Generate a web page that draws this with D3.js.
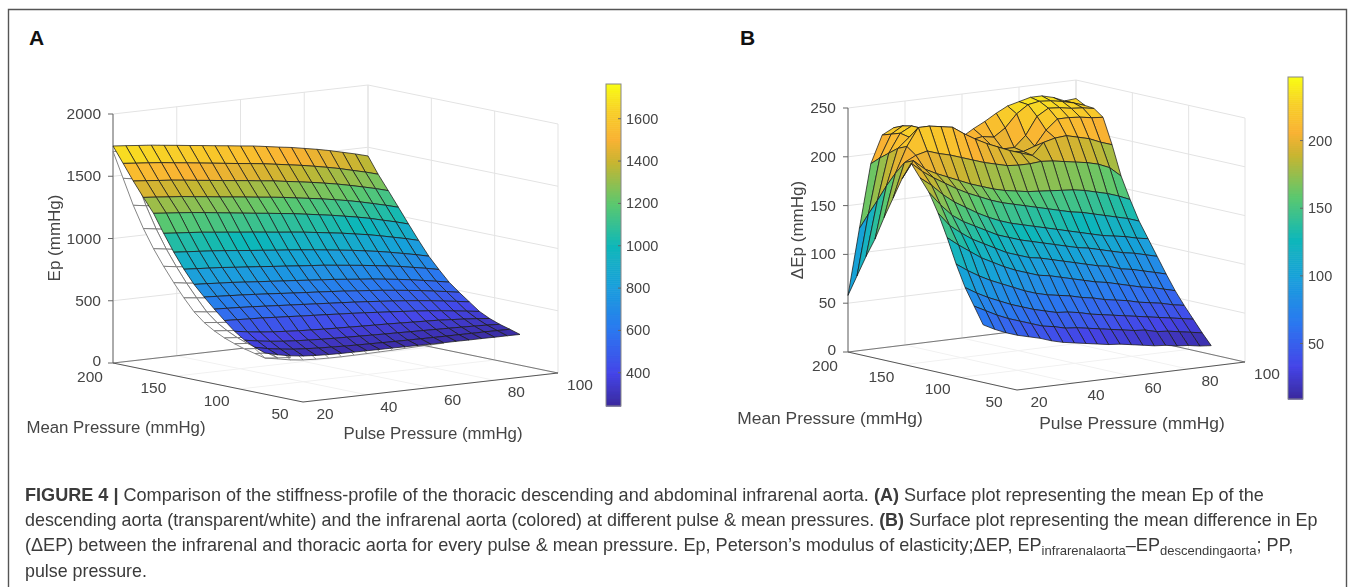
<!DOCTYPE html>
<html>
<head>
<meta charset="utf-8">
<script src="https://cdn.jsdelivr.net/npm/d3@7"></script>
<style>
body { margin: 0; background: #fff; }
svg { display: block; }
text { font-family: "Liberation Sans", Arial, sans-serif; fill: #444; }
</style>
</head>
<body>
<div id="container"></div>
<script>
// Grid of the two surfaces
var pulseLevels = [20, 24, 28, 32, 36, 40, 44, 48, 52, 56, 60, 64, 68, 72, 76, 80, 84, 88, 92, 96, 100];
var meanLevels = [200, 192, 184, 176, 168, 160, 152, 144, 136, 128, 120, 112, 104, 96, 88, 80];

// Panel A, infrarenal aorta, one row per mean pressure
var epInfrarenal = [
    [1743,1734,1724,1715,1702,1690,1677,1665,1652,1640,1627,1615,1599,1583,1568,1549,1530,1508,1483,1458,1430],
    [1620,1610,1601,1591,1578,1566,1553,1540,1527,1514,1502,1489,1473,1457,1441,1422,1402,1380,1354,1329,1300],
    [1495,1486,1476,1467,1455,1442,1430,1417,1405,1393,1380,1368,1352,1337,1321,1303,1284,1262,1238,1213,1185],
    [1380,1371,1361,1352,1339,1327,1314,1302,1290,1277,1265,1252,1236,1221,1205,1187,1168,1146,1121,1096,1068],
    [1269,1259,1250,1240,1228,1215,1202,1189,1176,1164,1151,1138,1122,1106,1090,1071,1052,1030,1004,979,950],
    [1125,1116,1108,1099,1087,1076,1064,1053,1041,1029,1018,1006,992,977,963,945,928,907,884,861,835],
    [990,982,974,966,956,945,934,924,913,903,892,881,868,855,842,826,810,791,770,749,725],
    [870,863,856,849,839,830,821,811,802,792,783,774,762,750,738,724,710,694,675,656,635],
    [765,759,752,746,737,728,720,711,703,694,685,677,666,655,645,632,619,604,587,569,550],
    [680,674,668,662,655,647,639,631,623,616,608,600,590,581,571,559,547,534,518,503,485],
    [600,595,590,584,577,570,563,556,549,542,535,528,520,511,502,492,481,469,455,441,425],
    [525,520,515,511,504,498,491,485,479,472,466,459,451,443,435,426,416,405,392,379,365],
    [455,439,426,416,408,401,396,391,387,384,380,377,374,370,366,362,358,351,344,335,325],
    [400,382,368,357,349,343,338,334,331,328,325,322,320,317,315,312,310,307,304,300,295],
    [360,338,322,310,302,296,292,288,285,283,281,279,278,277,276,275,275,274,274,273,272],
    [331,305,285,272,265,260,258,257,256,255,254,253,252,251,250,250,249,249,248,248,247]
];

// Panel A, descending aorta, only the parts that show past the coloured surface
var epDescending20 = [1700,1500,1300,1130,985,860,745,640,545,475,425,385,355,330,310,290];
var epDescending24 = [1685,1483,1285,1115,970,845,730,628,532,464,415,376,346,322,302,280];
var epDescending28 = [1670,1468,1270,1100,955,832,718,616,522,454,405,368,338,314,294,272];
var epDescendingFront = [290,272,252,240,235,232,231,232,233,235,237,240,243,245,247];

// Panel B, infrarenal minus descending, one row per mean pressure
var deltaEp = [
    [58,125,190,218,224,218,214,212,210,208,206,213,219,226,232,235,238,238,235,230,231],
    [80,142,198,221,228,222,216,213,210,207,205,207,205,213,226,234,236,235,233,230,226],
    [102,158,205,224,230,224,216,212,208,205,203,200,195,195,206,224,231,230,228,227,225],
    [122,175,212,222,230,226,216,212,207,203,200,196,194,193,197,212,222,222,221,219,218],
    [146,190,216,234,234,232,230,222,215,209,204,199,195,191,203,206,207,204,201,196,192],
    [168,203,209,212,208,205,201,197,193,190,187,186,186,187,186,184,182,180,177,172,162],
    [190,207,197,191,186,181,176,172,168,165,163,161,160,159,158,157,155,152,149,145,140],
    [208,198,190,183,176,170,165,160,156,153,150,147,144,141,138,136,133,130,127,124,120],
    [195,186,175,166,159,152,146,141,137,134,131,128,125,122,119,116,113,111,109,106,104],
    [182,168,156,148,142,136,130,126,122,119,116,113,110,107,105,102,99,96,94,91,88],
    [163,149,140,132,126,120,114,110,106,104,101,98,95,92,89,87,83,81,78,75,72],
    [140,131,123,115,109,103,98,94,90,88,85,82,79,76,74,71,68,65,63,60,57],
    [115,107,100,94,89,84,79,75,72,70,68,65,63,60,58,56,53,51,49,46,44],
    [93,86,80,75,70,66,62,59,56,55,53,50,48,46,44,42,40,38,36,34,32],
    [76,70,64,59,55,51,47,45,42,41,39,37,35,33,31,30,27,26,24,22,20],
    [59,53,48,44,41,38,34,31,29,27,25,23,22,20,18,16,15,13,12,10,9]
];

// Axis ticks
var pulseTicks = [20, 40, 60, 80, 100];
var meanTicks = [200, 150, 100, 50];
var epTicks = [0, 500, 1000, 1500, 2000];
var deltaTicks = [0, 50, 100, 150, 200, 250];
var barTicksA = [400, 600, 800, 1000, 1200, 1400, 1600];
var barTicksB = [50, 100, 150, 200];

// Colormap
var parulaStops = [0, 0.1, 0.235, 0.37, 0.5, 0.63, 0.76, 0.83, 0.92, 1];
var parulaColors = ['#3a2a9e', '#4545e8', '#2b78f0', '#1a9fdc', '#10b8b8', '#5cc86e', '#c8b530', '#f9b233', '#f8d028', '#f9fb15'];
var parula = d3.scaleLinear().domain(parulaStops).range(parulaColors);

var WIDTH = 1357,
    HEIGHT = 587;

var svg = d3.select('#container')
    .append('svg')
    .attr('width', WIDTH)
    .attr('height', HEIGHT);

var defs = svg.append('defs');
defs.append('filter').attr('id', 'soft')
    .append('feGaussianBlur').attr('stdDeviation', 0.45);
defs.append('filter').attr('id', 'softer')
    .append('feGaussianBlur').attr('stdDeviation', 0.3);

// Page frame
svg.append('path')
    .attr('d', 'M8.5,' + HEIGHT + 'V9.5H1346.5V' + HEIGHT)
    .attr('fill', 'none')
    .attr('stroke', '#555')
    .attr('stroke-width', 1.4);

var drawPanel = function(cfg) {

    var g = svg.append('g').attr('filter', 'url(#soft)');

    var pulseX = d3.scaleLinear().domain([20, 100]).range([0, cfg.pulseDx]),
        pulseY = d3.scaleLinear().domain([20, 100]).range([0, cfg.pulseDy]),
        meanX = d3.scaleLinear().domain([200, 50]).range([0, cfg.meanDx]),
        meanY = d3.scaleLinear().domain([200, 50]).range([0, cfg.meanDy]),
        zY = d3.scaleLinear().domain([0, cfg.zMax]).range([0, -cfg.zHeight]);

    var project = function(p, m, z) {
        return [cfg.x0 + pulseX(p) + meanX(m), cfg.y0 + pulseY(p) + meanY(m) + zY(z)];
    };

    var line = function(a, b, color, w) {
        g.append('line')
            .attr('x1', a[0]).attr('y1', a[1])
            .attr('x2', b[0]).attr('y2', b[1])
            .attr('stroke', color)
            .attr('stroke-width', w);
    };

    // Back walls and floor
    var GRID = '#e3e3e3';
    cfg.zTicks.forEach(function(z) {
        line(project(20, 200, z), project(100, 200, z), GRID, 1);
        line(project(100, 200, z), project(100, 50, z), GRID, 1);
    });
    pulseTicks.forEach(function(p) {
        line(project(p, 200, 0), project(p, 200, cfg.zMax), GRID, 1);
        line(project(p, 200, 0), project(p, 50, 0), '#f1f1f1', 1);
    });
    meanTicks.forEach(function(m) {
        line(project(100, m, 0), project(100, m, cfg.zMax), GRID, 1);
        line(project(20, m, 0), project(100, m, 0), '#f1f1f1', 1);
    });
    line(project(20, 200, 0), project(100, 200, 0), '#777', 1);
    line(project(100, 200, 0), project(100, 50, 0), '#777', 1);

    // Axes
    line(project(20, 200, 0), project(20, 200, cfg.zMax), '#666', 1);
    line(project(20, 200, 0), project(20, 50, 0), '#555', 1);
    line(project(20, 50, 0), project(100, 50, 0), '#555', 1);

    cfg.zTicks.forEach(function(z) {
        var a = project(20, 200, z);
        line(a, [a[0] - 5, a[1]], '#666', 1);
        g.append('text')
            .attr('x', a[0] - 12)
            .attr('y', a[1] + (z === 0 ? 3 : 5))
            .attr('text-anchor', 'end')
            .attr('font-size', 15.5)
            .text(z);
    });
    meanTicks.forEach(function(m) {
        var a = project(20, m, 0);
        g.append('text')
            .attr('x', a[0] - 23)
            .attr('y', a[1] + (m === 200 ? 19 : 17))
            .attr('text-anchor', 'middle')
            .attr('font-size', 15.5)
            .text(m);
    });
    pulseTicks.forEach(function(p) {
        var a = project(p, 50, 0);
        g.append('text')
            .attr('x', a[0] + 22)
            .attr('y', a[1] + 17)
            .attr('text-anchor', 'middle')
            .attr('font-size', 15.5)
            .text(p);
    });

    // Surface faces, far corner first
    if (cfg.under) cfg.under(g, project);

    var rows = d3.range(meanLevels.length - 1),
        cols = d3.range(pulseLevels.length - 2, -1, -1);

    rows.forEach(function(r) {
        cols.forEach(function(c) {
            var z = [cfg.values[r][c], cfg.values[r][c + 1], cfg.values[r + 1][c + 1], cfg.values[r + 1][c]];
            var pts = [
                project(pulseLevels[c], meanLevels[r], z[0]),
                project(pulseLevels[c + 1], meanLevels[r], z[1]),
                project(pulseLevels[c + 1], meanLevels[r + 1], z[2]),
                project(pulseLevels[c], meanLevels[r + 1], z[3])
            ];
            g.append('polygon')
                .attr('points', pts.join(' '))
                .attr('fill', parula(cfg.color(d3.mean(z))))
                .attr('stroke', '#1c1c1c')
                .attr('stroke-opacity', 0.85)
                .attr('stroke-width', 0.9);
        });
    });

    // Colour bar
    var barY = d3.scaleLinear().domain(cfg.barDomain).range([cfg.barBottom, cfg.barTop]);
    var steps = d3.range(0, 160);
    g.selectAll('.bar' + cfg.name)
        .data(steps)
        .enter()
        .append('rect')
        .attr('x', cfg.barX)
        .attr('width', 15)
        .attr('y', function(d) { return cfg.barBottom - (d + 1) / 160 * (cfg.barBottom - cfg.barTop); })
        .attr('height', (cfg.barBottom - cfg.barTop) / 160 + 0.6)
        .attr('fill', function(d) { return parula(d / 159); });
    g.append('rect')
        .attr('x', cfg.barX)
        .attr('y', cfg.barTop)
        .attr('width', 15)
        .attr('height', cfg.barBottom - cfg.barTop)
        .attr('fill', 'none')
        .attr('stroke', '#888');
    cfg.barTicks.forEach(function(t) {
        line([cfg.barX + 15, barY(t)], [cfg.barX + 12, barY(t)], '#666', 1);
        g.append('text')
            .attr('x', cfg.barX + 20)
            .attr('y', barY(t) + 5)
            .attr('font-size', 14.5)
            .text(t);
    });

    // Axis titles
    g.append('text')
        .attr('x', cfg.meanLabel[0]).attr('y', cfg.meanLabel[1])
        .attr('text-anchor', 'middle')
        .attr('font-size', cfg.titleSize)
        .text('Mean Pressure (mmHg)');
    g.append('text')
        .attr('x', cfg.pulseLabel[0]).attr('y', cfg.pulseLabel[1])
        .attr('text-anchor', 'middle')
        .attr('font-size', cfg.titleSize)
        .text('Pulse Pressure (mmHg)');
    g.append('text')
        .attr('transform', 'translate(' + cfg.zLabel[0] + ',' + cfg.zLabel[1] + ') rotate(-90)')
        .attr('text-anchor', 'middle')
        .attr('font-size', 17)
        .text(cfg.zTitle);
};

// The white descending aorta surface under panel A
var drawDescending = function(g, project) {
    var strips = [epDescending28, epDescending24, epDescending20],
        levels = [28, 24, 20];

    d3.range(1, 3).forEach(function(s) {
        d3.range(meanLevels.length - 1).forEach(function(r) {
            var pts = [
                project(levels[s - 1], meanLevels[r], strips[s - 1][r]),
                project(levels[s], meanLevels[r], strips[s][r]),
                project(levels[s], meanLevels[r + 1], strips[s][r + 1]),
                project(levels[s - 1], meanLevels[r + 1], strips[s - 1][r + 1])
            ];
            g.append('polygon')
                .attr('points', pts.join(' '))
                .attr('fill', '#fff')
                .attr('stroke', '#777')
                .attr('stroke-width', 0.9);
        });
    });

    var edge = d3.line();
    g.append('path')
        .attr('d', edge(epDescendingFront.map(function(z, i) { return project(pulseLevels[i], 80, z); })))
        .attr('fill', 'none')
        .attr('stroke', '#777')
        .attr('stroke-width', 0.9);
    epDescendingFront.forEach(function(z, i) {
        var a = project(pulseLevels[i], 80, z),
            b = project(pulseLevels[i], 88, z + 60);
        g.append('line')
            .attr('x1', a[0]).attr('y1', a[1])
            .attr('x2', b[0]).attr('y2', b[1])
            .attr('stroke', '#777')
            .attr('stroke-width', 0.8);
    });
};

var colorA = d3.scaleLinear().domain([243, 1764]).range([0, 1]).clamp(true),
    colorB = d3.scaleLinear().domain([9, 247]).range([0, 1]).clamp(true);

drawPanel({
    name: 'A',
    x0: 113, y0: 363,
    pulseDx: 255, pulseDy: -29,
    meanDx: 190, meanDy: 39,
    zMax: 2000, zHeight: 249,
    values: epInfrarenal,
    color: colorA,
    under: drawDescending,
    zTicks: epTicks,
    zTitle: 'Ep (mmHg)',
    barX: 606, barTop: 84, barBottom: 406,
    barDomain: [243, 1764],
    barTicks: barTicksA,
    titleSize: 16.8,
    meanLabel: [116, 433],
    pulseLabel: [433, 439],
    zLabel: [60, 238]
});

drawPanel({
    name: 'B',
    x0: 848, y0: 352,
    pulseDx: 228, pulseDy: -28,
    meanDx: 169, meanDy: 38,
    zMax: 250, zHeight: 244,
    values: deltaEp,
    color: colorB,
    zTicks: deltaTicks,
    zTitle: '\u0394Ep (mmHg)',
    barX: 1288, barTop: 77, barBottom: 399,
    barDomain: [9, 247],
    barTicks: barTicksB,
    titleSize: 17.4,
    meanLabel: [830, 424],
    pulseLabel: [1132, 429],
    zLabel: [803, 230]
});

// Panel letters
svg.append('text').attr('x', 29).attr('y', 45).attr('font-size', 21).attr('font-weight', 'bold').style('fill', '#111').text('A');
svg.append('text').attr('x', 740).attr('y', 45).attr('font-size', 21).attr('font-weight', 'bold').style('fill', '#111').text('B');

// Caption, squeezed to the width each line has in the figure
var captionLines = [
    { y: 501, x2: 1265, parts: [['FIGURE 4 |', 'b'], [' Comparison of the stiffness-profile of the thoracic descending and abdominal infrarenal aorta. '], ['(A)', 'b'], [' Surface plot representing the mean Ep of the']] },
    { y: 526, x2: 1319, parts: [['descending aorta (transparent/white) and the infrarenal aorta (colored) at different pulse & mean pressures. '], ['(B)', 'b'], [' Surface plot representing the mean difference in Ep']] },
    { y: 551, x2: 1295, parts: [['(\u0394EP) between the infrarenal and thoracic aorta for every pulse & mean pressure. Ep, Peterson\u2019s modulus of elasticity;\u0394EP, EP'], ['infrarenalaorta', 's'], ['\u2013EP'], ['descendingaorta', 's'], ['; PP,']] },
    { y: 577, x2: 147, parts: [['pulse pressure.']] }
];

captionLines.forEach(function(row) {
    var t = svg.append('text')
        .attr('font-size', 18)
        .attr('filter', 'url(#softer)')
        .attr('xml:space', 'preserve')
        .style('white-space', 'pre')
        .style('fill', '#3a3a3a');
    var wasSub = false;
    row.parts.forEach(function(part) {
        var s = t.append('tspan').text(part[0]);
        if (part[1] === 'b') s.attr('font-weight', 'bold');
        if (part[1] === 's') s.attr('font-size', 13).attr('dy', 4);
        if (part[1] !== 's' && wasSub) s.attr('dy', -4);
        wasSub = part[1] === 's';
    });
    var sx = (row.x2 - 25) / t.node().getComputedTextLength();
    t.attr('transform', 'translate(25,' + row.y + ') scale(' + sx + ',1)');
});
</script>
</body>
</html>
